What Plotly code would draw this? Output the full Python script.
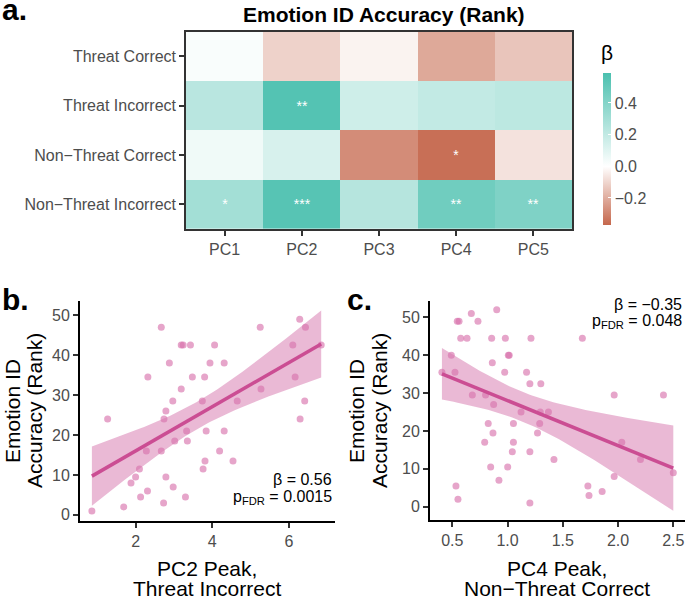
import numpy as np
import plotly.graph_objects as go

# ---------------- data ----------------
pcs = ["PC1", "PC2", "PC3", "PC4", "PC5"]
conditions = ["Threat Correct", "Threat Incorrect", "Non\u2212Threat Correct", "Non\u2212Threat Incorrect"]
beta_threat_correct = [0.02, -0.11, -0.03, -0.21, -0.14]
beta_threat_incorrect = [0.23, 0.56, 0.16, 0.20, 0.22]
beta_nonthreat_correct = [0.05, 0.13, -0.28, -0.35, -0.07]
beta_nonthreat_incorrect = [0.30, 0.55, 0.24, 0.47, 0.42]
stars_threat_correct = ["", "", "", "", ""]
stars_threat_incorrect = ["", "**", "", "", ""]
stars_nonthreat_correct = ["", "", "", "*", ""]
stars_nonthreat_incorrect = ["*", "***", "", "**", "**"]

pc2_peak_threat_incorrect = [0.86, 1.27, 1.69, 1.88, 2.0, 2.10, 2.13, 2.28, 2.31, 2.32, 2.67, 2.67, 2.73,
                             2.74, 2.79, 2.79, 2.88, 2.97, 2.98, 3.02, 3.19, 3.19, 3.24, 3.30, 3.33, 3.35,
                             3.43, 3.48, 3.74, 3.76, 3.80, 3.81, 3.84, 3.94, 4.06, 4.19, 4.31, 4.31, 4.54,
                             4.65, 5.25, 5.27, 6.10, 6.16, 6.28, 6.29, 6.41, 6.43, 6.84]
rank_b = [1, 24, 2, 8, 9.5, 11.5, 4.5, 16, 6, 34.5, 47, 16, 3,
          24, 26, 9.5, 38, 28.5, 7, 18.5, 31.5, 42.5, 42.5, 4.5, 21, 18.5,
          42.5, 34.5, 28.5, 11.5, 34.5, 13.5, 21, 38, 42.5, 16, 38, 21, 13.5,
          28.5, 47, 31.5, 42.5, 34.5, 49, 24, 28.5, 47, 42.5]

pc4_peak_nonthreat_correct = [0.406, 0.491, 0.524, 0.533, 0.551, 0.545, 0.561, 0.576, 0.633, 0.672, 0.681,
                              0.732, 0.793, 0.801, 0.825, 0.847, 0.856, 0.862, 0.868, 0.874, 0.902, 0.922,
                              0.974, 0.98, 1.001, 1.007, 1.015, 1.043, 1.053, 1.053, 1.122, 1.172, 1.202,
                              1.202, 1.202, 1.212, 1.271, 1.291, 1.296, 1.301, 1.37, 1.42, 1.677, 1.727,
                              1.737, 1.856, 1.965, 1.965, 2.034, 2.203, 2.411, 2.5]
rank_c = [35.5, 40, 35.5, 5.5, 2, 49, 49, 44.5, 44.5, 51, 29.5,
          49, 17, 29.5, 22, 10.5, 44.5, 38, 19.5, 27, 52, 7,
          35.5, 44.5, 10.5, 40, 40, 14.5, 17, 22, 25, 35.5, 32.5,
          14.5, 1, 44.5, 19.5, 22, 25, 32.5, 25, 12.5, 44.5, 5.5,
          3, 4, 29.5, 8, 17, 12.5, 29.5, 9]

stat_b = ["\u03b2 = 0.56", "p<sub>FDR</sub> = 0.0015"]
stat_c = ["\u03b2 = \u22120.35", "p<sub>FDR</sub> = 0.048"]
cbar_ticks = [-0.2, 0.0, 0.2, 0.4]

# ---------------- helpers ----------------
W, H = 685, 599
FONT = "Liberation Sans, Arial, Helvetica, sans-serif"
GREY = "#4D4D4D"


def px_x(p):
    return p / W


def px_y(p):
    return 1 - p / H


def lm_band(x, y, t=2.012):
    x = np.asarray(x, float)
    y = np.asarray(y, float)
    n = len(x)
    b1, b0 = np.polyfit(x, y, 1)
    xs = np.linspace(x.min(), x.max(), 80)
    yhat = b0 + b1 * xs
    resid = y - (b0 + b1 * x)
    s2 = np.sum(resid ** 2) / (n - 2)
    sxx = np.sum((x - x.mean()) ** 2)
    se = np.sqrt(s2 * (1 / n + (xs - x.mean()) ** 2 / sxx))
    return xs, yhat, yhat - t * se, yhat + t * se


fig = go.Figure()

# ---------------- heatmap ----------------
z = [beta_threat_correct, beta_threat_incorrect, beta_nonthreat_correct, beta_nonthreat_incorrect]
stars = [stars_threat_correct, stars_threat_incorrect, stars_nonthreat_correct, stars_nonthreat_incorrect]
zmin, zmax = -0.37, 0.59
mid = (0 - zmin) / (zmax - zmin)
fig.add_trace(go.Heatmap(
    z=z, x=pcs, y=conditions, text=stars, texttemplate="%{text}",
    textfont=dict(color="white", size=14, family=FONT),
    zmin=zmin, zmax=zmax,
    colorscale=[[0, "#C5674C"], [mid, "#FFFFFF"], [1, "#4BC0AF"]],
    xaxis="x", yaxis="y", hoverinfo="skip",
    colorbar=dict(
        x=px_x(603), xanchor="left", xpad=0, y=px_y(226), yanchor="bottom", ypad=0,
        len=(226 - 73) / H, lenmode="fraction", thickness=8,
        outlinewidth=0, tickvals=cbar_ticks, ticktext=["\u22120.2", "0.0", "0.2", "0.4"],
        ticks="inside", ticklen=3, tickcolor="white",
        tickfont=dict(size=16, color=GREY, family=FONT),
    ),
))

# ---------------- scatters ----------------
PINK_PT = "rgba(214,110,170,0.62)"
PINK_BAND = "rgba(214,115,172,0.5)"
PINK_LINE = "#CB4D93"

for xd, yd, xa, ya in [(pc2_peak_threat_incorrect, rank_b, "x2", "y2"),
                       (pc4_peak_nonthreat_correct, rank_c, "x3", "y3")]:
    fig.add_trace(go.Scatter(x=xd, y=yd, mode="markers", xaxis=xa, yaxis=ya,
                             marker=dict(size=7, color=PINK_PT, line=dict(width=0)),
                             hoverinfo="skip", showlegend=False))
    xs, yh, lo, hi = lm_band(xd, yd)
    fig.add_trace(go.Scatter(x=np.concatenate([xs, xs[::-1]]), y=np.concatenate([hi, lo[::-1]]),
                             fill="toself", fillcolor=PINK_BAND, line=dict(width=0),
                             mode="lines", xaxis=xa, yaxis=ya, hoverinfo="skip", showlegend=False))
    fig.add_trace(go.Scatter(x=xs, y=yh, mode="lines", line=dict(color=PINK_LINE, width=3.5),
                             xaxis=xa, yaxis=ya, hoverinfo="skip", showlegend=False))

axis_common = dict(showgrid=False, zeroline=False, showline=True, linecolor="black", linewidth=2,
                   ticks="outside", ticklen=5, tickwidth=1.5, tickcolor="#333333",
                   tickfont=dict(size=16, color=GREY, family=FONT))

fig.update_layout(
    width=W, height=H, margin=dict(l=0, r=0, t=0, b=0),
    paper_bgcolor="white", plot_bgcolor="white", showlegend=False,
    font=dict(family=FONT),
    xaxis=dict(domain=[px_x(186), px_x(572)], anchor="y", showgrid=False, zeroline=False,
               showline=True, mirror=True, linecolor="#333333", linewidth=1.5,
               ticks="outside", ticklen=5, tickwidth=1.5, tickcolor="#333333",
               tickfont=dict(size=16, color=GREY, family=FONT)),
    yaxis=dict(domain=[px_y(230), px_y(32)], anchor="x", autorange="reversed", showgrid=False,
               zeroline=False, showline=True, mirror=True, linecolor="#333333", linewidth=1.5,
               ticks="outside", ticklen=5, tickwidth=1.5, tickcolor="#333333",
               tickfont=dict(size=16, color=GREY, family=FONT)),
    xaxis2=dict(domain=[px_x(80), px_x(335)], anchor="y2", range=[0.55, 7.2],
                tickvals=[2, 4, 6], **axis_common),
    yaxis2=dict(domain=[px_y(523.5), px_y(302.7)], anchor="x2", range=[-1.5, 53.5],
                tickvals=[0, 10, 20, 30, 40, 50], **axis_common),
    xaxis3=dict(domain=[px_x(430), 1.0], anchor="y3", range=[0.298, 2.606],
                tickvals=[0.5, 1.0, 1.5, 2.0, 2.5], ticktext=["0.5", "1.0", "1.5", "2.0", "2.5"],
                **axis_common),
    yaxis3=dict(domain=[px_y(522.7), px_y(302.7)], anchor="x3", range=[-3.52, 54.28],
                tickvals=[0, 10, 20, 30, 40, 50], **axis_common),
)

ann = []


def A(text, x, y, size, xanchor="center", yanchor="middle", bold=False, color="black", angle=0):
    if bold:
        text = "<b>" + text + "</b>"
    ann.append(dict(text=text, x=px_x(x), y=px_y(y), xref="paper", yref="paper",
                    xanchor=xanchor, yanchor=yanchor, showarrow=False, textangle=angle,
                    font=dict(size=size, color=color, family=FONT)))


# panel labels
A("a.", 0, 10, 30, xanchor="left", bold=True)
A("b.", 0, 301, 30, xanchor="left", bold=True)
A("c.", 345, 301, 30, xanchor="left", bold=True)
# heatmap title and legend title
A("Emotion ID Accuracy (Rank)", 384, 15, 21, bold=True)
A("\u03b2", 607, 53, 21)
# axis titles b
A("PC2 Peak,", 207, 571, 21)
A("Threat Incorrect", 207, 591, 21)
A("Emotion ID", 13, 413, 21, angle=-90)
A("Accuracy (Rank)", 35, 413, 21, angle=-90)
# axis titles c
A("PC4 Peak,", 557, 571, 21)
A("Non\u2212Threat Correct", 557, 591, 21)
A("Emotion ID", 357, 413, 21, angle=-90)
A("Accuracy (Rank)", 380, 413, 21, angle=-90)
# stats
A(stat_b[0], 334, 482, 16, xanchor="right")
A(stat_b[1], 334, 500, 16, xanchor="right")
A(stat_c[0], 684, 306, 16, xanchor="right")
A(stat_c[1], 684, 323, 16, xanchor="right")

fig.update_layout(annotations=ann)
fig.write_html("out.html", config={"displayModeBar": False},
               post_script="document.body.style.margin='0';document.body.style.overflow='hidden';")
